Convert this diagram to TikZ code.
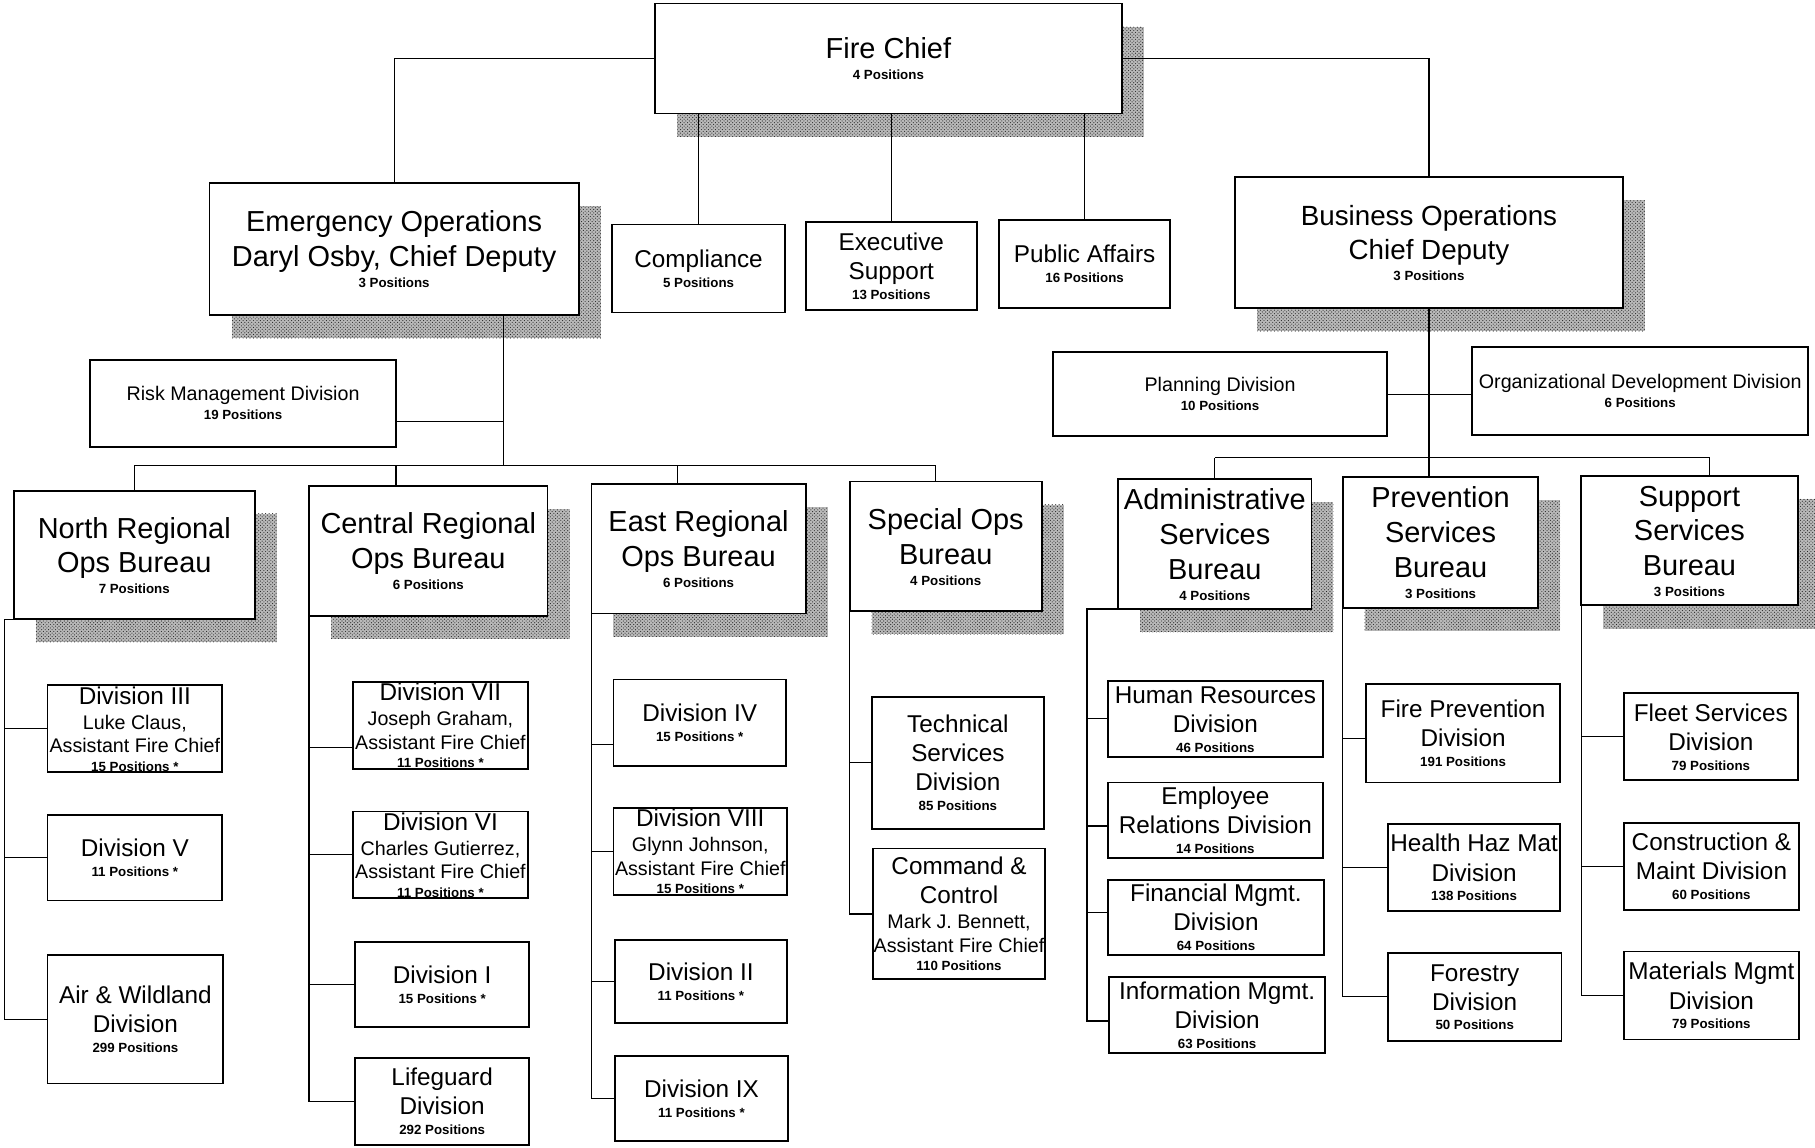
\documentclass[tikz,border=0pt]{standalone}
\usepackage{fontspec}
\setmainfont{Liberation Sans}
\usetikzlibrary{patterns}
\newbox\stkb
\newdimen\stkd
\newcommand\orgstk[1]{%
  \setbox\stkb=\vbox{\offinterlineskip\halign{\hfil##\hfil\cr#1\crcr}}%
  \stkd=\dimexpr(\ht\stkb-\dp\stkb)/2\relax
  \setbox\stkb=\hbox to 0pt{\hss\lower\stkd\box\stkb\hss}%
  \ht\stkb=0pt \dp\stkb=0pt \box\stkb}
\newcommand\tline[2]{\fontsize{#1}{#1}\selectfont\rule[-\dimexpr #1pt*3/10\relax]{0pt}{\dimexpr #1pt*12/10\relax}#2\cr}
\newcommand\pline[1]{\fontsize{11.5}{11.5}\selectfont\bfseries\rule[-3.6pt]{0pt}{14.4pt}#1\cr}
\newcommand\mkbox[6]{%
  \pgfmathsetmacro\oX{(#2+#4)/2}\pgfmathsetmacro\oY{(#3+#5)/2}%
  \pgfmathsetmacro\oW{#4-#2}\pgfmathsetmacro\oH{#5-#3}%
  \node[orgbox, minimum width=\oW pt, minimum height=\oH pt] (#1) at (\oX,\oY) {\orgstk{#6}};}
\newcommand\mkshbox[6]{%
  \fill[shadowfill] (#2+19,#3+20) rectangle (#4+19,#5+20);
  \mkbox{#1}{#2}{#3}{#4}{#5}{#6}}
\begin{document}
\begin{tikzpicture}[x=1pt,y=-1pt,
  orgbox/.style={draw=black, line width=1.6pt, fill=white, rectangle, inner sep=0pt, outer sep=0pt},
  shadowfill/.style={fill=gray!55, postaction={pattern=crosshatch dots, pattern color=black!85}},
  conn/.style={draw=black, line width=1.1pt}]
\useasboundingbox (0,0) rectangle (1568,991);
\fill[white] (0,0) rectangle (1568,991);

% top level
\mkshbox{fc}{566}{3}{969}{98}{\tline{25}{Fire Chief}\pline{4 Positions}}
\mkshbox{eo}{181}{158}{500}{272}{\tline{25}{Emergency Operations}\tline{25}{Daryl Osby, Chief Deputy}\pline{3 Positions}}
\mkbox{comp}{529}{194}{678}{270}{\tline{21}{Compliance}\pline{5 Positions}}
\mkbox{ex}{696}{192}{844}{268}{\tline{21}{Executive}\tline{21}{Support}\pline{13 Positions}}
\mkbox{pa}{863}{190}{1011}{266}{\tline{21}{Public Affairs}\pline{16 Positions}}
\mkshbox{bo}{1067}{153}{1402}{266}{\tline{24}{Business Operations}\tline{24}{Chief Deputy}\pline{3 Positions}}
\mkbox{risk}{78}{311}{342}{386}{\tline{17}{Risk Management Division}\pline{19 Positions}}
\mkbox{pl}{910}{304}{1198}{377}{\tline{17}{Planning Division}\pline{10 Positions}}
\mkbox{od}{1272}{300}{1562}{376}{\tline{17}{Organizational Development Division}\pline{6 Positions}}

% bureaus
\mkshbox{nr}{12}{424}{220}{535}{\tline{25}{North Regional}\tline{25}{Ops Bureau}\pline{7 Positions}}
\mkshbox{cr}{267}{420}{473}{532}{\tline{25}{Central Regional}\tline{25}{Ops Bureau}\pline{6 Positions}}
\mkshbox{er}{511}{418}{696}{530}{\tline{25}{East Regional}\tline{25}{Ops Bureau}\pline{6 Positions}}
\mkshbox{so}{734}{416}{900}{528}{\tline{25}{Special Ops}\tline{25}{Bureau}\pline{4 Positions}}
\mkshbox{as}{966}{414}{1133}{526}{\tline{25}{Administrative}\tline{25}{Services}\tline{25}{Bureau}\pline{4 Positions}}
\mkshbox{ps}{1160}{412}{1329}{525}{\tline{25}{Prevention}\tline{25}{Services}\tline{25}{Bureau}\pline{3 Positions}}
\mkshbox{ss}{1366}{411}{1553}{523}{\tline{25}{Support}\tline{25}{Services}\tline{25}{Bureau}\pline{3 Positions}}

% north divisions
\mkbox{d3}{41}{592}{192}{667}{\tline{21}{Division III}\tline{17}{Luke Claus,}\tline{17}{Assistant Fire Chief}\pline{15 Positions *}}
\mkbox{d5}{41}{704}{192}{778}{\tline{21}{Division V}\pline{11 Positions *}}
\mkbox{air}{41}{825}{193}{936}{\tline{21}{Air \& Wildland}\tline{21}{Division}\pline{299 Positions}}
% central divisions
\mkbox{d7}{305}{589}{456}{664}{\tline{21}{Division VII}\tline{17}{Joseph Graham,}\tline{17}{Assistant Fire Chief}\pline{11 Positions *}}
\mkbox{d6}{305}{701}{456}{776}{\tline{21}{Division VI}\tline{17}{Charles Gutierrez,}\tline{17}{Assistant Fire Chief}\pline{11 Positions *}}
\mkbox{d1}{307}{814}{457}{887}{\tline{21}{Division I}\pline{15 Positions *}}
\mkbox{lg}{307}{914}{457}{989}{\tline{21}{Lifeguard}\tline{21}{Division}\pline{292 Positions}}
% east divisions
\mkbox{d4}{530}{587}{679}{662}{\tline{21}{Division IV}\pline{15 Positions *}}
\mkbox{d8}{530}{698}{680}{773}{\tline{21}{Division VIII}\tline{17}{Glynn Johnson,}\tline{17}{Assistant Fire Chief}\pline{15 Positions *}}
\mkbox{d2}{531}{812}{680}{884}{\tline{21}{Division II}\pline{11 Positions *}}
\mkbox{d9}{531}{912}{681}{986}{\tline{21}{Division IX}\pline{11 Positions *}}
% special ops
\mkbox{tech}{753}{602}{902}{716}{\tline{21}{Technical}\tline{21}{Services}\tline{21}{Division}\pline{85 Positions}}
\mkbox{cc}{754}{733}{903}{846}{\tline{21}{Command \&}\tline{21}{Control}\tline{17}{Mark J. Bennett,}\tline{17}{Assistant Fire Chief}\pline{110 Positions}}
% administrative
\mkbox{hr}{957}{588}{1143}{654}{\tline{21}{Human Resources}\tline{21}{Division}\pline{46 Positions}}
\mkbox{er2}{957}{676}{1143}{741}{\tline{21}{Employee}\tline{21}{Relations Division}\pline{14 Positions}}
\mkbox{fm}{957}{760}{1144}{825}{\tline{21}{Financial Mgmt.}\tline{21}{Division}\pline{64 Positions}}
\mkbox{im}{958}{844}{1145}{910}{\tline{21}{Information Mgmt.}\tline{21}{Division}\pline{63 Positions}}
% prevention
\mkbox{fp}{1180}{591}{1348}{676}{\tline{21}{Fire Prevention}\tline{21}{Division}\pline{191 Positions}}
\mkbox{hh}{1199}{712}{1348}{787}{\tline{21}{Health Haz Mat}\tline{21}{Division}\pline{138 Positions}}
\mkbox{fo}{1199}{823}{1349}{899}{\tline{21}{Forestry}\tline{21}{Division}\pline{50 Positions}}
% support
\mkbox{fl}{1403}{599}{1553}{674}{\tline{21}{Fleet Services}\tline{21}{Division}\pline{79 Positions}}
\mkbox{cm}{1403}{711}{1554}{786}{\tline{21}{Construction \&}\tline{21}{Maint Division}\pline{60 Positions}}
\mkbox{mm}{1403}{822}{1554}{898}{\tline{21}{Materials Mgmt}\tline{21}{Division}\pline{79 Positions}}

% ---- connectors ----
\draw[conn] (fc.west) -| (eo.north);
\draw[conn] (fc.east) -| (bo.north);
\foreach \n in {comp,ex,pa} \draw[conn] (fc.south -| \n.north) -- (\n.north);

\coordinate (lbus) at (435,402);
\draw[conn] (eo.south -| lbus) -- (lbus);
\coordinate (rk) at ([yshift=-15.5pt]risk.east);
\draw[conn] (rk) -- (rk -| lbus);
\coordinate (dn) at (116,402);
\coordinate (dc) at (342,402);
\coordinate (de) at (585,402);
\coordinate (ds) at (808,402);
\draw[conn] (dn) -- (ds);
\draw[conn] (dn) -- (dn |- nr.north);
\draw[conn] (dc) -- (dc |- cr.north);
\draw[conn] (de) -- (de |- er.north);
\draw[conn] (ds) -- (ds |- so.north);

% north spine
\coordinate (nsp) at (4,535);
\draw[conn] (nr.south west) -- (nsp) |- (air.west);
\draw[conn] (nsp |- d3.west) -- (d3.west);
\draw[conn] (nsp |- d5.west) -- (d5.west);
% central spine
\coordinate (d7b) at ([yshift=-19.5pt]d7.west);
\draw[conn] (cr.south west) |- (lg.west);
\draw[conn] (cr.south west |- d7b) -- (d7b);
\draw[conn] (cr.south west |- d6.west) -- (d6.west);
\draw[conn] (cr.south west |- d1.west) -- (d1.west);
% east spine
\coordinate (d4b) at ([yshift=-18.5pt]d4.west);
\draw[conn] (er.south west) |- (d9.west);
\draw[conn] (er.south west |- d4b) -- (d4b);
\draw[conn] (er.south west |- d8.west) -- (d8.west);
\draw[conn] (er.south west |- d2.west) -- (d2.west);
% special spine
\draw[conn] (so.south west) |- (cc.west);
\draw[conn] (so.south west |- tech.west) -- (tech.west);

% business side
\draw[conn] (bo.south) -- (bo.south |- ps.north);
\coordinate (rb) at (1477,395.5);
\draw[conn] (as.north |- rb) -- (rb) -- (rb |- ss.north);
\draw[conn] (as.north |- rb) -- (as.north);
\draw[conn] (pl.east) -- (pl.east -| od.west);

% admin spine
\coordinate (asp) at (939,526);
\coordinate (erb) at ([yshift=-5pt]er2.west);
\coordinate (fmb) at ([yshift=4.5pt]fm.west);
\coordinate (imb) at ([yshift=-5pt]im.west);
\draw[conn] (as.south west) -- (asp) |- (imb);
\draw[conn] (asp |- hr.west) -- (hr.west);
\draw[conn] (asp |- erb) -- (erb);
\draw[conn] (asp |- fmb) -- (fmb);
% prevention spine
\coordinate (fpb) at ([yshift=-4.5pt]fp.west);
\draw[conn] (ps.south west) |- (fo.west);
\draw[conn] (ps.south west |- fpb) -- (fpb);
\draw[conn] (ps.south west |- hh.west) -- (hh.west);
% support spine
\draw[conn] (ss.south west) |- (mm.west);
\draw[conn] (ss.south west |- fl.west) -- (fl.west);
\draw[conn] (ss.south west |- cm.west) -- (cm.west);
\end{tikzpicture}
\end{document}
